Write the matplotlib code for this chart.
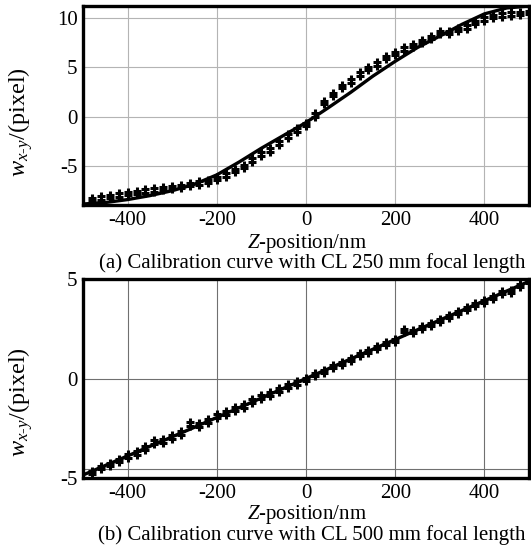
import matplotlib
matplotlib.use("Agg")
import matplotlib.pyplot as plt

plt.rcParams['font.family'] = ['Liberation Serif', 'DejaVu Serif']
plt.rcParams['mathtext.fontset'] = 'custom'
plt.rcParams['mathtext.rm'] = 'Liberation Serif'
plt.rcParams['mathtext.it'] = 'Liberation Serif:italic'
plt.rcParams['axes.unicode_minus'] = False

# Z positions of the measured points (nm)
z_pts = [-480, -460, -440, -420, -400, -380, -360, -340, -320, -300,
         -280, -260, -240, -220, -200, -180, -160, -140, -120, -100,
         -80, -60, -40, -20, 0, 20, 40, 60, 80, 100,
         120, 140, 160, 180, 200, 220, 240, 260, 280, 300,
         320, 340, 360, 380, 400, 420, 440, 460, 480, 500]

# (a) CL 250 mm: fitted curve
fit_z_a = [-500, -450, -400, -350, -300, -250, -200, -150, -100, -50, 0,
           50, 100, 150, 200, 250, 300, 350, 400, 450, 500]
fit_w_a = [-8.85, -8.7, -8.4, -8.0, -7.5, -6.85, -5.9, -4.6, -3.2, -1.9, -0.6,
           0.9, 2.45, 4.1, 5.6, 7.0, 8.15, 9.35, 10.4, 11.0, 11.2]

# (a) measured points, two runs
meas_a1 = [-8.2, -8.05, -7.9, -7.75, -7.6, -7.5, -7.35, -7.25, -7.1, -7.0,
           -6.9, -6.7, -6.55, -6.4, -6.1, -5.75, -5.3, -4.9, -4.2, -3.6,
           -3.2, -2.5, -1.8, -1.2, -0.65, 0.35, 1.6, 2.4, 3.2, 3.8,
           4.5, 5.05, 5.5, 6.15, 6.55, 7.0, 7.35, 7.8, 8.2, 8.7,
           8.7, 9.0, 9.25, 9.7, 10.05, 10.3, 10.45, 10.55, 10.6, 10.7]
meas_a2 = [-8.55, -8.4, -8.25, -8.1, -7.95, -7.85, -7.7, -7.6, -7.45, -7.35,
           -7.25, -7.05, -6.9, -6.75, -6.45, -6.1, -5.65, -5.25, -4.55, -3.95,
           -3.55, -2.85, -2.15, -1.55, -1.0, 0.0, 1.25, 2.05, 2.85, 3.45,
           4.15, 4.7, 5.15, 5.8, 6.2, 6.65, 7.0, 7.45, 7.85, 8.35,
           8.35, 8.65, 8.9, 9.35, 9.7, 9.95, 10.1, 10.2, 10.25, 10.35]

# (b) CL 500 mm: fitted line
fit_z_b = [-500, -250, 0, 250, 500]
fit_w_b = [-4.85, -2.45, 0.0, 2.45, 4.88]

# (b) measured points, two runs
meas_b1 = [-4.65, -4.4, -4.25, -4.05, -3.8, -3.65, -3.4, -3.1, -3.05, -2.85,
           -2.65, -2.2, -2.25, -2.05, -1.8, -1.65, -1.45, -1.3, -1.05, -0.85,
           -0.7, -0.5, -0.3, -0.15, 0.05, 0.3, 0.45, 0.7, 0.85, 1.05,
           1.3, 1.45, 1.65, 1.85, 2.0, 2.5, 2.45, 2.65, 2.8, 3.0,
           3.2, 3.4, 3.6, 3.8, 3.95, 4.15, 4.4, 4.45, 4.75, 4.95]
meas_b2 = [-4.82, -4.57, -4.42, -4.22, -3.97, -3.82, -3.57, -3.27, -3.22, -3.02,
           -2.82, -2.37, -2.42, -2.22, -1.97, -1.82, -1.62, -1.47, -1.22, -1.02,
           -0.87, -0.67, -0.47, -0.32, -0.12, 0.13, 0.28, 0.53, 0.68, 0.88,
           1.13, 1.28, 1.48, 1.68, 1.83, 2.33, 2.28, 2.48, 2.63, 2.83,
           3.03, 3.23, 3.43, 3.63, 3.78, 3.98, 4.23, 4.28, 4.58, 4.78]

x_ticks = [-400, -200, 0, 200, 400]
y_ticks_a = [-5, 0, 5, 10]
y_ticks_b = [-5, 0, 5]
grid_extra_b = -4.55

fig = plt.figure(figsize=(5.31, 5.5), dpi=100)
W, H = 531, 550

def px_box(x0, y0, x1, y1):
    return [x0 / W, 1 - y1 / H, (x1 - x0) / W, (y1 - y0) / H]

ax1 = fig.add_axes(px_box(83, 6, 529, 205))
ax2 = fig.add_axes(px_box(83, 279, 529, 478))

def style(ax, grid_color):
    ax.set_xlim(-500, 500)
    ax.set_xticks(x_ticks)
    ax.grid(True, color=grid_color, lw=0.8)
    ax.set_axisbelow(True)
    ax.tick_params(length=0, labelsize=15, pad=4)
    for s in ax.spines.values():
        s.set_linewidth(2.4)
        s.set_color('black')

mk = dict(ls='none', marker='+', ms=6, mew=2.2, color='black', zorder=4)

# panel (a)
ax1.plot(fit_z_a, fit_w_a, color='black', lw=2.4, zorder=3)
ax1.plot(z_pts, meas_a1, **mk)
ax1.plot(z_pts, meas_a2, **mk)
ax1.set_ylim(-8.95, 11.2)
ax1.set_yticks(y_ticks_a)
style(ax1, '#b4b4b4')

# panel (b)
ax2.plot(fit_z_b, fit_w_b, color='black', lw=2.4, zorder=3)
ax2.plot(z_pts, meas_b1, **mk)
ax2.plot(z_pts, meas_b2, **mk)
ax2.axhline(grid_extra_b, color='#707070', lw=0.8, zorder=0)
ax2.set_ylim(-5, 5)
ax2.set_yticks(y_ticks_b)
style(ax2, '#707070')

def fy(px):
    return 1 - px / H

ylab = r'$w_{x\text{-}y}$/(pixel)'
fig.text(21 / W, fy(122), ylab, rotation=90, ha='center', va='center', fontsize=17.5)
fig.text(21 / W, fy(402), ylab, rotation=90, ha='center', va='center', fontsize=17.5)

xlab = r'$Z$-position/nm'
fig.text(307 / W, fy(243), xlab, ha='center', va='center', fontsize=15)
fig.text(312 / W, fy(263), '(a) Calibration curve with CL 250 mm focal length',
         ha='center', va='center', fontsize=15)
fig.text(307 / W, fy(515), xlab, ha='center', va='center', fontsize=15)
fig.text(312 / W, fy(535), '(b) Calibration curve with CL 500 mm focal length',
         ha='center', va='center', fontsize=15)

fig.savefig('out.png', dpi=100)
